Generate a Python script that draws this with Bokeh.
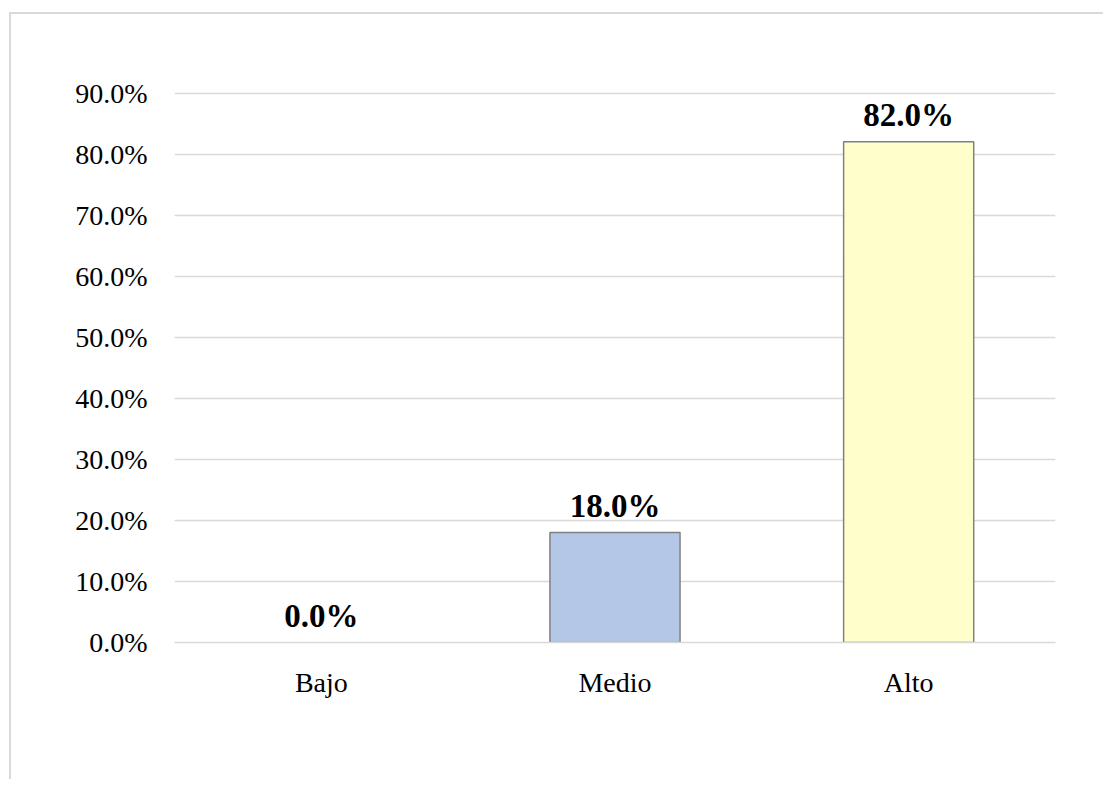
from bokeh.plotting import figure
from bokeh.models import ColumnDataSource, FactorRange, FixedTicker, NumeralTickFormatter, Range1d
from bokeh.core.properties import value
from bokeh.embed import file_html
from bokeh.resources import INLINE

categories = ["Bajo", "Medio", "Alto"]
values = [0.0, 0.18, 0.82]
labels = ["0.0%", "18.0%", "82.0%"]
bar_colors = ["#c5e0b4", "#b4c7e7", "#ffffcc"]
y_ticks = [0.0, 0.1, 0.2, 0.3, 0.4, 0.5, 0.6, 0.7, 0.8, 0.9]

src = ColumnDataSource(dict(
    cat=categories,
    val=values,
    lab=labels,
    fill=bar_colors,
    line=["#808080" if v > 0 else None for v in values],
))

FONT = "Liberation Serif"

p = figure(
    x_range=FactorRange(*categories, range_padding=0),
    y_range=Range1d(0, 0.9025),
    frame_width=881, frame_height=551,
    min_border_left=163, min_border_top=77,
    min_border_right=48, min_border_bottom=137,
    output_backend="svg", toolbar_location=None,
    styles={"margin-left": "9px", "margin-top": "12px",
            "border-left": "2px solid #d9d9d9", "border-top": "2px solid #d9d9d9"},
)
p.outline_line_color = None
p.background_fill_color = "white"
p.border_fill_color = "white"

p.vbar(x="cat", top="val", width=0.443, source=src,
       fill_color="fill", line_color="line", line_width=1.5)

p.text(x="cat", y="val", text="lab", source=src,
       text_font=value(FONT), text_font_style="bold", text_font_size="33px",
       text_align="center", text_baseline="alphabetic", y_offset=-27,
       text_color="black")

p.xgrid.grid_line_color = None
p.ygrid.grid_line_color = "#d9d9d9"
p.ygrid.grid_line_width = 1.5
p.ygrid.ticker = FixedTicker(ticks=y_ticks)

p.yaxis.ticker = FixedTicker(ticks=y_ticks)
p.yaxis.formatter = NumeralTickFormatter(format="0.0%")
p.yaxis.axis_line_color = None
p.yaxis.major_tick_line_color = None
p.yaxis.minor_tick_line_color = None
p.yaxis.major_label_text_font = FONT
p.yaxis.major_label_text_font_size = "28px"
p.yaxis.major_label_text_color = "black"
p.yaxis.major_label_standoff = 21

p.xaxis.axis_line_color = "#d9d9d9"
p.xaxis.axis_line_width = 1.5
p.xaxis.major_tick_line_color = None
p.xaxis.minor_tick_line_color = None
p.xaxis.major_label_text_font = FONT
p.xaxis.major_label_text_font_size = "28px"
p.xaxis.major_label_text_color = "black"
p.xaxis.major_label_standoff = 18

open("out.html", "w").write(file_html(p, INLINE))
